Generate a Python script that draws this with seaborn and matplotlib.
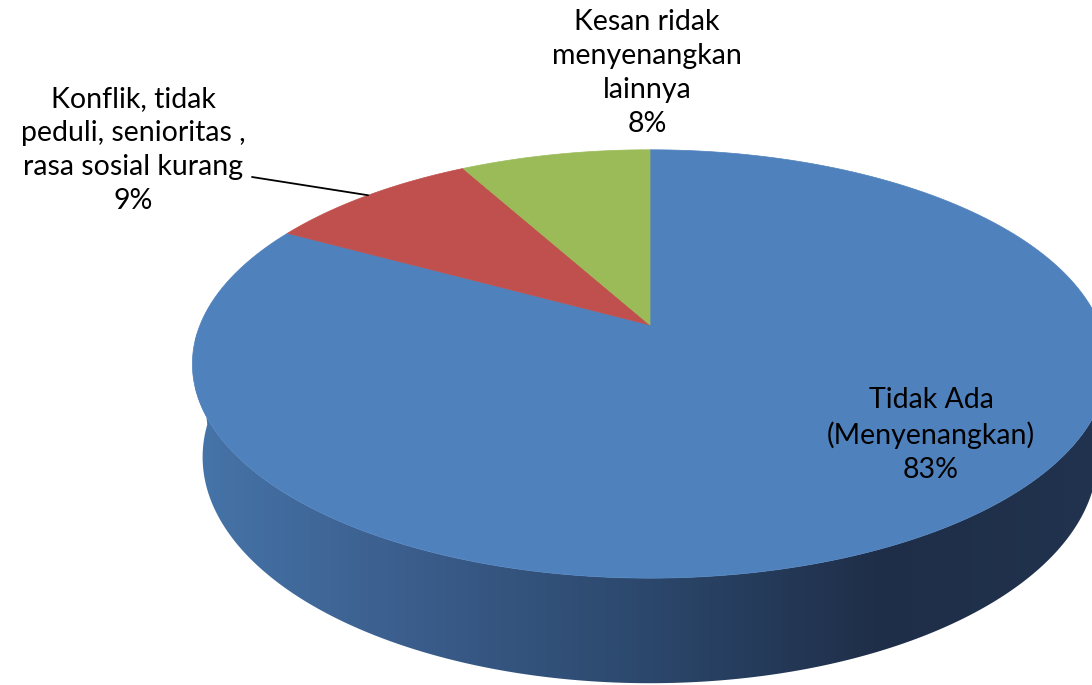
"""
3D-style pie chart: kesan selama kegiatan.
"""

import numpy as np
import matplotlib
matplotlib.use("Agg")
import matplotlib.pyplot as plt
from matplotlib.patches import Polygon
from matplotlib.colors import ListedColormap
import seaborn as sns

# Data
labels = ["Tidak Ada\n(Menyenangkan)",
          "Konflik, tidak\npeduli, senioritas ,\nrasa sosial kurang",
          "Kesan ridak\nmenyenangkan\nlainnya"]
values = [83, 9, 8]
colors = ["#4F81BD", "#C0504D", "#9BBB59"]
side_colors = ["#4674A9", "#3A5C8A", "#2B476B", "#1F2E48", "#21334F"]

# label placement (pixel coords) and leader line flag
label_pos = [(931, 435), (133, 150), (647, 73)]
use_leader = [False, True, False]

# Camera / view settings
ELEV = np.radians(27.4)
DIST = 4.88
FOCAL = 2196
HEIGHT = 0.235
CX, CY = 650, 325

sns.set_style("white")
plt.rcParams['font.family'] = ['Lato', 'DejaVu Sans']


def project(s, c, z=0.0):
    """Perspective projection of a point on the pie (s right, c far, z up)."""
    rel_y = c + DIST * np.cos(ELEV)
    rel_z = z - DIST * np.sin(ELEV)
    depth = rel_y * np.cos(ELEV) - rel_z * np.sin(ELEV)
    px = CX + FOCAL * s / depth
    py = CY - FOCAL * (rel_y * np.sin(ELEV) + rel_z * np.cos(ELEV)) / depth
    return px, py


fig = plt.figure(figsize=(10.92, 6.85), dpi=100)
ax = fig.add_axes([0, 0, 1, 1])
ax.set_xlim(0, 1092)
ax.set_ylim(685, 0)
ax.axis('off')

# 1. Outer side (front half), one polygon filled with a horizontal gradient
th = np.radians(np.linspace(92, 268, 300))
tx, ty = project(np.sin(th), np.cos(th))
bx, by = project(np.sin(th), np.cos(th), -HEIGHT)
side = Polygon(np.c_[np.r_[tx, bx[::-1]], np.r_[ty, by[::-1]]],
               closed=True, facecolor='none', edgecolor='none')
ax.add_patch(side)
cmap = ListedColormap(sns.blend_palette(side_colors, n_colors=256))
xmin, xmax = 195, 1110
img = ax.imshow(np.linspace(0, 1, 512)[None, :], cmap=cmap, aspect='auto',
                extent=[xmin, xmax, by.max() + 5, ty.min() - 5],
                interpolation='bilinear', zorder=1)
img.set_clip_path(side)

# 2. Top faces (clockwise from 12 o'clock)
total = sum(values)
start = 0.0
cx0, cy0 = project(0.0, 0.0)
for lab, v, col, pos, lead in zip(labels, values, colors, label_pos, use_leader):
    end = start + v / total * 2 * np.pi
    a = np.linspace(start, end, 200)
    px, py = project(np.sin(a), np.cos(a))
    ax.fill(np.r_[cx0, px], np.r_[cy0, py], color=col, linewidth=0.5,
            edgecolor=col, zorder=2)

    ax.text(pos[0], pos[1], f"{lab}\n{v}%", ha='center', va='center',
            multialignment='center', fontsize=20.5, linespacing=1.38,
            color='black', zorder=4)

    if lead:
        mid = (start + end) / 2
        mx, my = project(np.sin(mid), np.cos(mid))
        ax.plot([252, mx], [177, my], color='black', linewidth=1.3, zorder=3)

    start = end

ax.set_xlim(0, 1092)
ax.set_ylim(685, 0)
fig.savefig("out.png", dpi=100)
plt.close(fig)
